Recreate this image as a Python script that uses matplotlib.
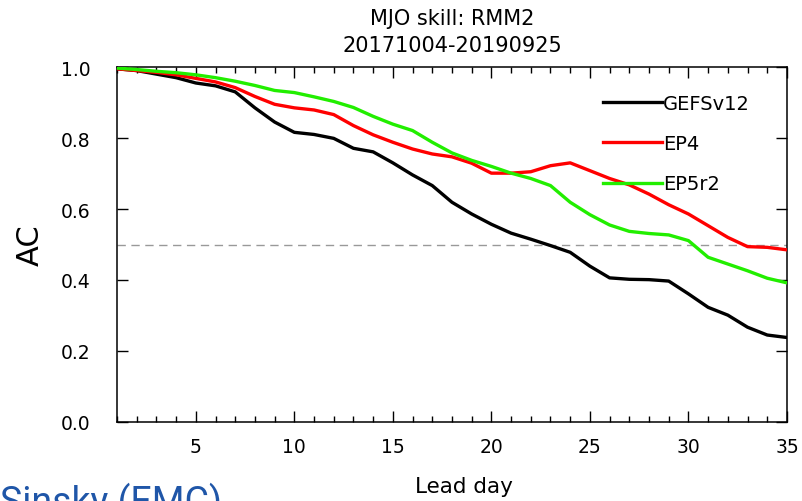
import matplotlib
matplotlib.use("Agg")
import matplotlib.pyplot as plt
from matplotlib.ticker import MultipleLocator, FormatStrFormatter

plt.rcParams["font.family"] = ["DejaVu Sans"]

# ── data: anomaly correlation of RMM2 vs lead day ───────────────────────────
lead_day = list(range(1, 36))
gefsv12 = [0.995, 0.99, 0.98, 0.97, 0.955, 0.947, 0.93, 0.885, 0.845, 0.816,
           0.81, 0.799, 0.771, 0.761, 0.730, 0.696, 0.666, 0.619, 0.586, 0.557,
           0.532, 0.515, 0.497, 0.478, 0.439, 0.406, 0.402, 0.401, 0.397, 0.361,
           0.323, 0.301, 0.267, 0.245, 0.238]
ep4 = [0.995, 0.99, 0.985, 0.978, 0.968, 0.958, 0.942, 0.917, 0.895, 0.885,
       0.879, 0.866, 0.835, 0.809, 0.788, 0.769, 0.755, 0.747, 0.729, 0.701,
       0.701, 0.705, 0.722, 0.730, 0.708, 0.686, 0.668, 0.642, 0.612, 0.586,
       0.553, 0.520, 0.494, 0.492, 0.485]
ep5r2 = [0.997, 0.993, 0.988, 0.984, 0.978, 0.970, 0.960, 0.948, 0.934, 0.928,
         0.916, 0.903, 0.886, 0.861, 0.839, 0.821, 0.788, 0.758, 0.737, 0.720,
         0.701, 0.686, 0.666, 0.619, 0.584, 0.555, 0.537, 0.531, 0.527, 0.511,
         0.464, 0.445, 0.426, 0.405, 0.392]
series = [("GEFSv12", gefsv12, "black"), ("EP4", ep4, "#ff0000"), ("EP5r2", ep5r2, "#22ee00")]
ref_level = 0.5

fig = plt.figure(figsize=(8.03, 5.02), dpi=100)
ax = fig.add_axes([0.1457, 0.1574, 0.8343, 0.7071])

ax.axhline(ref_level, color="0.6", lw=1.0, ls=(0, (6, 4)), zorder=1)
for name, vals, c in series:
    ax.plot(lead_day, vals, color=c, lw=2.4, label=name, zorder=3)

ax.set_xlim(1, 35)
ax.set_ylim(0, 1.0)
ax.xaxis.set_major_locator(MultipleLocator(5))
ax.xaxis.set_minor_locator(MultipleLocator(1))
ax.yaxis.set_major_locator(MultipleLocator(0.2))
ax.yaxis.set_major_formatter(FormatStrFormatter("%.1f"))
ax.tick_params(which="both", direction="in", top=True, right=True, labelsize=13.5, width=1.0)
ax.tick_params(which="major", length=8)
ax.tick_params(which="minor", length=4)
ax.tick_params(axis="x", which="major", pad=11)
ax.tick_params(axis="y", which="major", pad=19)
for s in ax.spines.values():
    s.set_linewidth(1.1)

ax.set_xlabel("Lead day", fontsize=15.5)
ax.xaxis.set_label_coords(0.518, -0.152)
ax.set_ylabel("AC", fontsize=22)
ax.yaxis.set_label_coords(-0.108, 0.5)
ax.set_title("MJO skill: RMM2\n20171004-20190925", fontsize=15, linespacing=1.45, pad=11.5)

ax.legend(loc="upper left", bbox_to_anchor=(0.725, 0.925), frameon=False, fontsize=14,
          handlelength=3.05, handletextpad=0.05, labelspacing=1.1, borderpad=0, borderaxespad=0)

fig.text(0.0, 0.038, "Sinsky (EMC)", color="#1f56a8", fontsize=27, ha="left", va="top",
         family=["Roboto", "DejaVu Sans"])

fig.savefig("out.png", dpi=100)
